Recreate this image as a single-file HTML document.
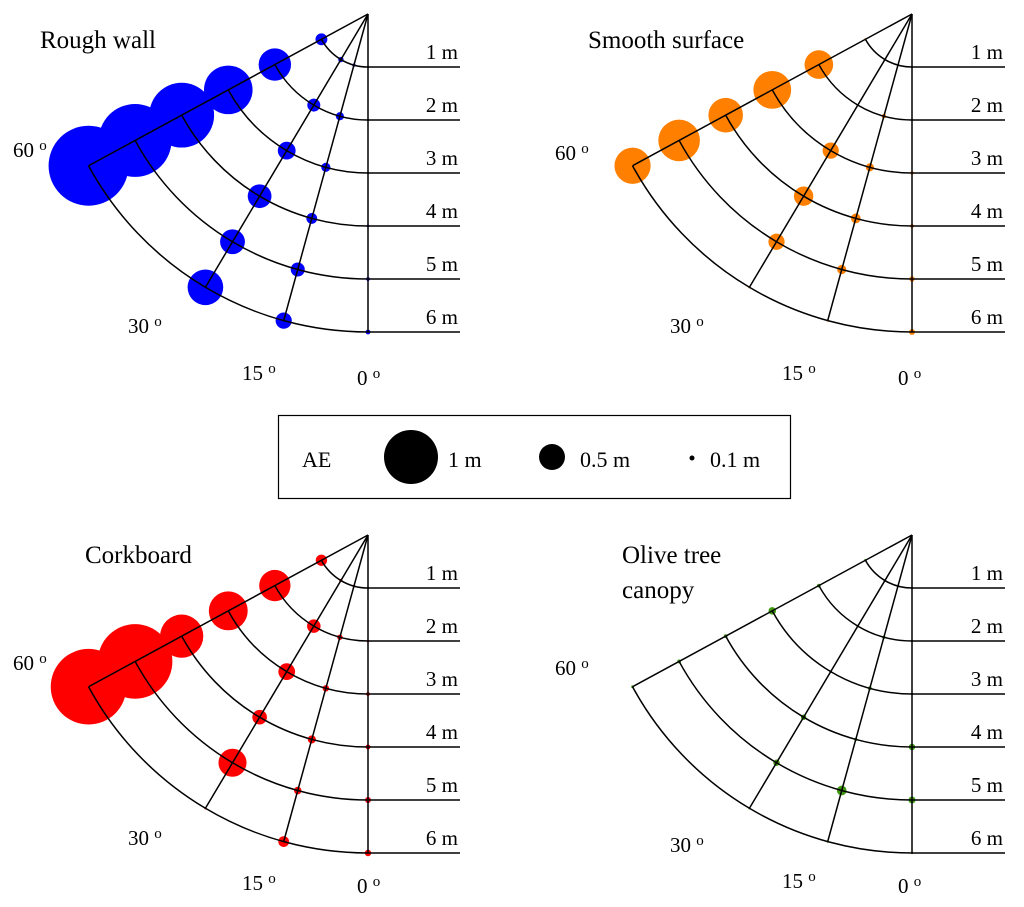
<!DOCTYPE html>
<html><head><meta charset="utf-8">
<style>
body{margin:0;background:#fff;}
svg{display:block;font-family:"Liberation Serif",serif;}
</style></head>
<body>
<svg id="fig" width="1024" height="907" viewBox="0 0 1024 907">
  <g>
    <rect x="278.5" y="415.5" width="512" height="83" fill="#fff" stroke="#000" stroke-width="1.2"/>
    <text x="302" y="467" font-size="22">AE</text>
    <circle cx="411" cy="457" r="27" fill="#000"/>
    <text x="448" y="467" font-size="22">1 m</text>
    <circle cx="552" cy="457" r="13" fill="#000"/>
    <text x="580" y="467" font-size="22">0.5 m</text>
    <circle cx="692" cy="458" r="2.5" fill="#000"/>
    <text x="710" y="467" font-size="22">0.1 m</text>
  </g>
</svg>
<script>
// Data: AE (m) per angle, distances 1..6 m
const distances = [1,2,3,4,5,6];
const angles = [0,15,30,60];
const roughWall = {a0:[0.04,0.04,0.04,0.05,0.07,0.09], a15:[0.06,0.15,0.17,0.2,0.26,0.3], a30:[0.1,0.24,0.33,0.44,0.46,0.66], a60:[0.22,0.6,0.9,1.2,1.35,1.48]};
const smoothSurface = {a0:[0.02,0.05,0.06,0.07,0.1,0.11], a15:[0.04,0.08,0.15,0.18,0.17,0.03], a30:[0.03,0.03,0.3,0.36,0.3,0.03], a60:[0.03,0.53,0.7,0.64,0.77,0.67]};
const corkboard = {a0:[0.02,0.05,0.07,0.09,0.11,0.12], a15:[0.05,0.1,0.12,0.15,0.14,0.2], a30:[0.06,0.25,0.31,0.27,0.52,0.04], a60:[0.21,0.58,0.72,0.8,1.38,1.4]};
const oliveCanopy = {a0:[0.03,0.04,0.04,0.12,0.13,0.04], a15:[0.05,0.06,0.07,0.06,0.18,0.04], a30:[0.05,0.05,0.05,0.1,0.12,0.04], a60:[0.05,0.07,0.14,0.07,0.07,0.05]};

const NS='http://www.w3.org/2000/svg';
const svg=document.getElementById('fig');
const PX_PER_M=53, AE_SCALE=27, ANG_STRETCH=1.025;
function el(tag,attrs,parent){const e=document.createElementNS(NS,tag);for(const k in attrs)e.setAttribute(k,attrs[k]);parent.appendChild(e);return e;}
function pt(ox,oy,ang,d){const a=ang*ANG_STRETCH*Math.PI/180;return [ox-PX_PER_M*d*Math.sin(a), oy+PX_PER_M*d*Math.cos(a)];}

const panels=[
 {id:'rough-wall',data:roughWall,color:'#0000ff',ox:368,oy:14,lineEnd:460,title:['Rough wall'],tx:40,ty:48,deg:[[13,157],[128,333],[242,380],[357,385]]},
 {id:'smooth-surface',data:smoothSurface,color:'#ff8000',ox:912,oy:14,lineEnd:1005,title:['Smooth surface'],tx:588,ty:48,deg:[[555,160],[670,333],[782,380],[898,385]]},
 {id:'corkboard',data:corkboard,color:'#ff0000',ox:368,oy:535,lineEnd:460,title:['Corkboard'],tx:85,ty:563,deg:[[13,670],[128,845],[242,890],[357,893]]},
 {id:'olive-tree-canopy',data:oliveCanopy,color:'#3f9a10',ox:912,oy:535,lineEnd:1005,title:['Olive tree','canopy'],tx:622,ty:563,deg:[[555,675],[670,852],[782,888],[898,893]]}
];
const degLabels=['60','30','15','0'];

panels.forEach(p=>{
  const g=el('g',{},svg);
  
  
  angles.forEach(ang=>{
    p.data['a'+ang].forEach((v,i)=>{
      const [x,y]=pt(p.ox,p.oy,ang,distances[i]);
      const c=el('circle',{cx:x,cy:y,r:Math.max(1.2,v*AE_SCALE),fill:p.color},g);
      
      
    });
  });
  angles.forEach(ang=>{
    const [x,y]=pt(p.ox,p.oy,ang,6);
    const l=el('line',{x1:p.ox,y1:p.oy,x2:x,y2:y,stroke:'#000','stroke-width':1.5},g);
    
    
  });
  distances.forEach(d=>{
    const [x1,y1]=pt(p.ox,p.oy,60,d),[x2,y2]=pt(p.ox,p.oy,0,d);
    const r=PX_PER_M*d;
    const a=el('path',{d:`M${x1},${y1} A${r},${r} 0 0 0 ${x2},${y2}`,fill:'none',stroke:'#000','stroke-width':1.5},g);
    
    
    const h=el('line',{x1:x2,y1:y2,x2:p.lineEnd,y2:y2,stroke:'#000','stroke-width':1.5},g);
    
    
    const t=el('text',{x:p.lineEnd-2,y:y2-8,'font-size':21,'text-anchor':'end'},g);
    t.textContent=d+' m';
    
    
  });
  p.title.forEach((s,i)=>{
    const t=el('text',{x:p.tx,y:p.ty+i*35,'font-size':25},g);
    t.textContent=s;
    
    
  });
  p.deg.forEach((q,i)=>{
    const t=el('text',{x:q[0],y:q[1],'font-size':21},g);
    t.textContent=degLabels[i]+' ';
    const s=el('tspan',{'font-size':15,dy:-7},t);
    s.textContent='o';
    
    
  });
});
</script>
</body></html>
